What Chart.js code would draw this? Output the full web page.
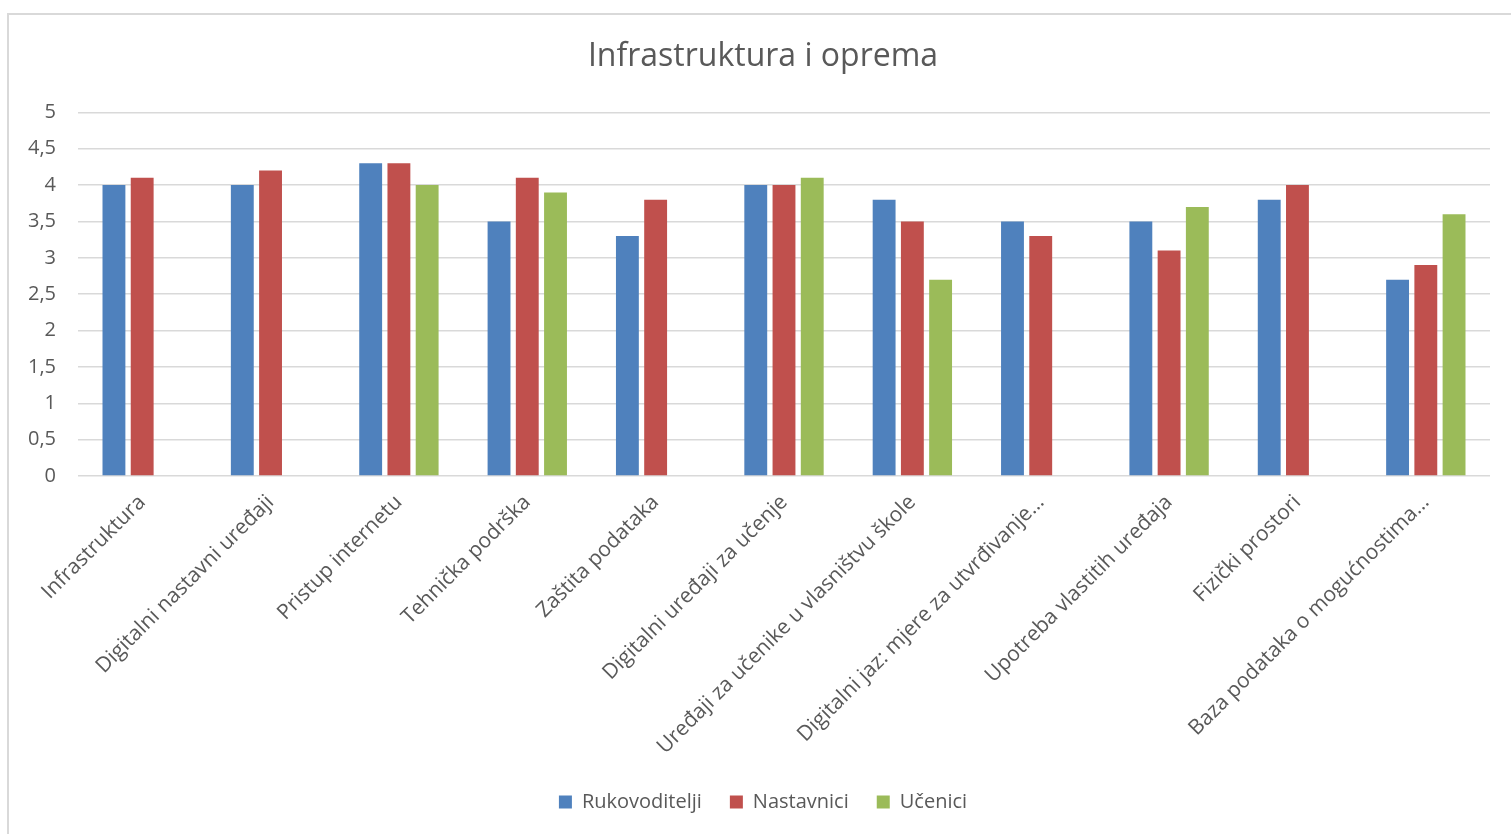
<!DOCTYPE html>
<html>
<head>
<meta charset="utf-8">
<script src="https://cdn.jsdelivr.net/npm/chart.js@4.4.1/dist/chart.umd.min.js"></script>
<style>
    html, body { margin: 0; padding: 0; background: #ffffff; overflow: hidden; }
    #frame {
        position: absolute; left: 7px; top: 13px; width: 1530px; height: 900px;
        border: 2px solid #d9d9d9; box-sizing: border-box;
    }
    #wrap { position: absolute; left: 0; top: 0; width: 1530px; height: 834px; }
</style>
</head>
<body>
<div id="frame"></div>
<div id="wrap"><canvas id="infraChart"></canvas></div>
<script>
// Chart data
const categories = [
    'Infrastruktura',
    'Digitalni nastavni uređaji',
    'Pristup internetu',
    'Tehnička podrška',
    'Zaštita podataka',
    'Digitalni uređaji za učenje',
    'Uređaji za učenike u vlasništvu škole',
    'Digitalni jaz: mjere za utvrđivanje…',
    'Upotreba vlastitih uređaja',
    'Fizički prostori',
    'Baza podataka o mogućnostima…'
];
const rukovoditelji = [4.0, 4.0, 4.3, 3.5, 3.3, 4.0, 3.8, 3.5, 3.5, 3.8, 2.7];
const nastavnici = [4.1, 4.2, 4.3, 4.1, 3.8, 4.0, 3.5, 3.3, 3.1, 4.0, 2.9];
const ucenici = [null, null, 4.0, 3.9, null, 4.1, 2.7, null, 3.7, null, 3.6];
const yTickLabels = ['0', '0,5', '1', '1,5', '2', '2,5', '3', '3,5', '4', '4,5', '5'];

const textColor = '#595959';
const fontFamily = '"Open Sans", "DejaVu Sans", sans-serif';

document.addEventListener('DOMContentLoaded', () => {
    initializeInfraChart();
});

function initializeInfraChart() {
    const ctx = document.getElementById('infraChart').getContext('2d');
    new Chart(ctx, {
        type: 'bar',
        data: {
            labels: categories,
            datasets: [
                { label: 'Rukovoditelji', data: rukovoditelji, backgroundColor: '#4f81bd' },
                { label: 'Nastavnici', data: nastavnici, backgroundColor: '#c0504d' },
                { label: 'Učenici', data: ucenici, backgroundColor: '#9bbb59' }
            ]
        },
        options: {
            responsive: true,
            maintainAspectRatio: false,
            animation: false,
            categoryPercentage: 0.66,
            barPercentage: 0.81,
            layout: {
                padding: { top: 38, left: 0, right: 4, bottom: 12 }
            },
            scales: {
                x: {
                    grid: { display: false, drawTicks: false },
                    border: { display: false },
                    ticks: {
                        color: textColor,
                        font: { family: fontFamily, size: 21 },
                        minRotation: 45,
                        maxRotation: 45,
                        autoSkip: false,
                        padding: 14
                    },
                    afterFit: (scale) => { scale.height = 288; }
                },
                y: {
                    min: 0,
                    max: 5,
                    grid: { color: '#d9d9d9', lineWidth: 1.5, drawTicks: false },
                    border: { display: false },
                    ticks: {
                        stepSize: 0.5,
                        color: textColor,
                        font: { family: fontFamily, size: 20 },
                        padding: 22,
                        callback: (value, index) => yTickLabels[index]
                    },
                    afterFit: (scale) => { scale.width = 78; }
                },
                // empty right-hand spacer so the title and legend centre like the original
                spacer: {
                    type: 'linear',
                    position: 'right',
                    grid: { display: false, drawTicks: false },
                    border: { display: false },
                    ticks: { display: false },
                    afterFit: (scale) => { scale.width = 36; }
                }
            },
            plugins: {
                title: {
                    display: true,
                    text: 'Infrastruktura i oprema',
                    color: textColor,
                    font: { family: fontFamily, size: 32, weight: 'normal' },
                    padding: { top: 0, bottom: 36 }
                },
                legend: {
                    position: 'bottom',
                    labels: {
                        color: textColor,
                        font: { family: fontFamily, size: 20 },
                        boxWidth: 13,
                        boxHeight: 13,
                        padding: 28
                    }
                },
                tooltip: { enabled: false }
            }
        }
    });
}
</script>
</body>
</html>
